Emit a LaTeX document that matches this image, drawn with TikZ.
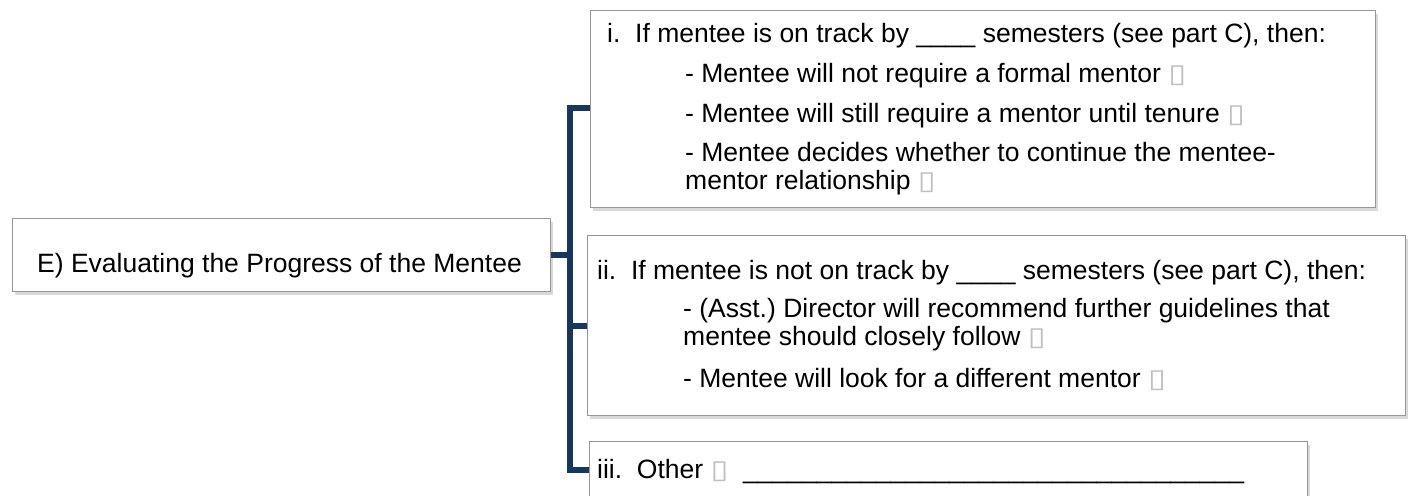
\documentclass[tikz,border=0pt]{standalone}
\usepackage{fontspec}
\setmainfont{Liberation Sans}
\newfontfamily\dejavu{DejaVu Sans}
\usetikzlibrary{shadows}
\frenchspacing
\definecolor{navy}{RGB}{23,55,94}
\definecolor{boxline}{RGB}{150,150,150}
\newcommand{\sqmark}{{\color{gray!50}\dejavu\fontsize{26}{26}\selectfont\scalebox{1.25}[1]{▯}}}
\tikzset{
  box/.style={draw=boxline, line width=1.3pt, fill=white, rectangle, anchor=north west, inner sep=0pt,
    drop shadow={shadow xshift=2pt, shadow yshift=-3pt, opacity=0.3, fill=gray}},
  txt/.style={anchor=base west, inner sep=0pt, font=\fontsize{26.5}{28}\selectfont},
  conn/.style={draw=navy, line width=6pt}
}
\begin{document}
\begin{tikzpicture}[x=1pt,y=-1pt]
\useasboundingbox (0,0) rectangle (1415,495);
% boxes
\node[box, minimum width=538pt, minimum height=73pt] (E) at (12,218) {};
\node[box, minimum width=785pt, minimum height=197pt] (bi) at (590,10) {};
\node[box, minimum width=818pt, minimum height=180pt] (bii) at (587,235) {};
\node[box, minimum width=718pt, minimum height=80pt] (biii) at (589,441) {};
% texts
\node[txt] (tE) at (37,272) {E) Evaluating the Progress of the Mentee};
\node[txt] (ti1) at (607,42) {i.\ \ If mentee is on track by \_\_\_\_ semesters (see part C), then:};
\node[txt] (ti2) at (685,82) {- Mentee will not require a formal mentor \sqmark};
\node[txt] (ti3) at (685,122) {- Mentee will still require a mentor until tenure \sqmark};
\node[txt] (ti4) at (685,161) {- Mentee decides whether to continue the mentee-};
\node[txt] (ti5) at (685,189) {mentor relationship \sqmark};
\node[txt] (tii1) at (597,279) {ii.\ \ If mentee is not on track by \_\_\_\_ semesters (see part C), then:};
\node[txt] (tii2) at (683,317) {- (Asst.) Director will recommend further guidelines that};
\node[txt] (tii3) at (683,345) {mentee should closely follow \sqmark};
\node[txt] (tii4) at (683,387) {- Mentee will look for a different mentor \sqmark};
\node[txt] (tiii) at (597,478) {iii.\ \ Other \sqmark\ \ \_\_\_\_\_\_\_\_\_\_\_\_\_\_\_\_\_\_\_\_\_\_\_\_\_\_\_\_\_\_\_\_\_\_};
% connectors
\coordinate (jE) at (570,254.5);
\coordinate (j1) at (570,108);
\coordinate (j2) at (570,326);
\coordinate (j3) at (570,470);
\draw[conn] (E.east |- jE) -- (jE);
\draw[conn, line cap=butt] (bi.west |- j1) -- (j1) -- (j3) -- (biii.west |- j3);
\draw[conn] (j2) -- (bii.west |- j2);
\end{tikzpicture}
\end{document}
